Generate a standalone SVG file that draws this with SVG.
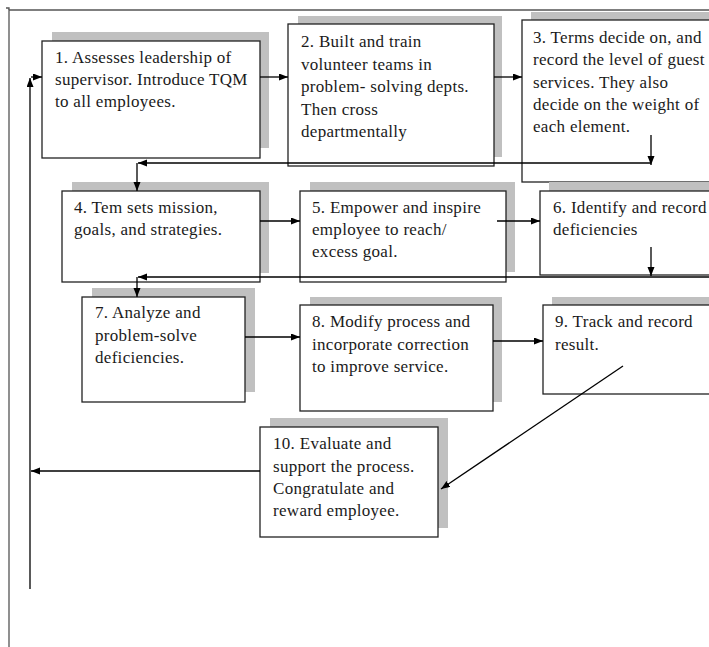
<svg xmlns="http://www.w3.org/2000/svg" width="709" height="647" viewBox="0 0 709 647">
<defs>
<marker id="ah" markerUnits="userSpaceOnUse" markerWidth="10" markerHeight="8" refX="9" refY="3.5" orient="auto">
<path d="M0,0 L9,3.5 L0,7 z" fill="#000"/>
</marker>
<style>
.sh{fill:#c0c0c0;stroke:none}
.bx{fill:#fff;stroke:#222;stroke-width:1.3}
.t{font-family:"Liberation Serif",serif;font-size:17px;fill:#1a1a1a;letter-spacing:0.3px}
.c{fill:none;stroke:#000;stroke-width:1.3}
.fr{fill:none;stroke:#555;stroke-width:1.3}
</style>
</defs>
<rect width="709" height="647" fill="#fff"/>
<g id="frame">
<path class="fr" d="M9,647 V10 H709"/>
<path class="fr" d="M6,8 H9 V10" stroke-width="1"/>
</g>
<g id="node1">
<rect class="sh" x="52" y="32" width="217" height="116"/>
<rect class="bx" x="42" y="41" width="218" height="117"/>
<text class="t" x="55" y="63">1. Assesses leadership of</text>
<text class="t" x="55" y="85">supervisor. Introduce TQM</text>
<text class="t" x="55" y="107">to all employees.</text>
</g>
<g id="node2">
<rect class="sh" x="298" y="16" width="204" height="141"/>
<rect class="bx" x="288" y="24" width="206" height="142"/>
<text class="t" x="301" y="47">2. Built and train</text>
<text class="t" x="301" y="69.5">volunteer teams in</text>
<text class="t" x="301" y="92">problem- solving depts.</text>
<text class="t" x="301" y="114.5">Then cross</text>
<text class="t" x="301" y="137">departmentally</text>
</g>
<g id="node3">
<rect class="sh" x="531" y="12" width="190" height="160"/>
<rect class="bx" x="522" y="20" width="200" height="162"/>
<text class="t" x="533" y="43">3. Terms decide on, and</text>
<text class="t" x="533" y="65">record the level of guest</text>
<text class="t" x="533" y="88">services. They also</text>
<text class="t" x="533" y="110">decide on the weight of</text>
<text class="t" x="533" y="132">each element.</text>
</g>
<g id="node4">
<rect class="sh" x="72" y="182" width="197" height="91"/>
<rect class="bx" x="62" y="191" width="198" height="91"/>
<text class="t" x="74" y="213">4. Tem sets mission,</text>
<text class="t" x="74" y="235">goals, and strategies.</text>
</g>
<g id="node5">
<rect class="sh" x="310" y="182" width="205" height="90"/>
<rect class="bx" x="300" y="191" width="206" height="91"/>
<text class="t" x="312" y="213">5. Empower and inspire</text>
<text class="t" x="312" y="235">employee to reach/</text>
<text class="t" x="312" y="257">excess goal.</text>
</g>
<g id="node6">
<rect class="sh" x="549" y="182" width="170" height="84"/>
<rect class="bx" x="540" y="191" width="180" height="84"/>
<text class="t" x="553" y="213">6. Identify and record</text>
<text class="t" x="553" y="235">deficiencies</text>
</g>
<g id="node7">
<rect class="sh" x="92" y="288" width="163" height="104"/>
<rect class="bx" x="82" y="297" width="163" height="105"/>
<text class="t" x="95" y="318">7. Analyze and</text>
<text class="t" x="95" y="341">problem-solve</text>
<text class="t" x="95" y="363">deficiencies.</text>
</g>
<g id="node8">
<rect class="sh" x="310" y="297" width="192" height="105"/>
<rect class="bx" x="300" y="305" width="193" height="106"/>
<text class="t" x="312" y="327">8. Modify process and</text>
<text class="t" x="312" y="350">incorporate correction</text>
<text class="t" x="312" y="372">to improve service.</text>
</g>
<g id="node9">
<rect class="sh" x="552" y="297" width="170" height="88"/>
<rect class="bx" x="543" y="305" width="180" height="89"/>
<text class="t" x="555" y="327">9. Track and record</text>
<text class="t" x="555" y="350">result.</text>
</g>
<g id="node10">
<rect class="sh" x="270" y="418" width="178" height="110"/>
<rect class="bx" x="260" y="427" width="178" height="110"/>
<text class="t" x="273" y="449">10. Evaluate and</text>
<text class="t" x="273" y="472">support the process.</text>
<text class="t" x="273" y="494">Congratulate and</text>
<text class="t" x="273" y="516">reward employee.</text>
</g>
<g id="connectors">
<path class="c" d="M260,77 H288" marker-end="url(#ah)"/>
<path class="c" d="M494,77 H522" marker-end="url(#ah)"/>
<path class="c" d="M651,135 V165" marker-end="url(#ah)"/>
<path class="c" d="M651,163 H138" marker-end="url(#ah)"/>
<path class="c" d="M137,163 V191" marker-end="url(#ah)"/>
<path class="c" d="M260,221 H300" marker-end="url(#ah)"/>
<path class="c" d="M497,221 H540" marker-end="url(#ah)"/>
<path class="c" d="M651,247 V276" marker-end="url(#ah)"/>
<path class="c" d="M709,277 H138" marker-end="url(#ah)"/>
<path class="c" d="M137,277 V297" marker-end="url(#ah)"/>
<path class="c" d="M245,337 H300" marker-end="url(#ah)"/>
<path class="c" d="M493,341 H543" marker-end="url(#ah)"/>
<path class="c" d="M623,366 L441,489" stroke-width="1" marker-end="url(#ah)"/>
<path class="c" d="M260,471 H31" marker-end="url(#ah)"/>
<path class="c" d="M30,589 V78" stroke="#555" marker-end="url(#ah)"/>
<path class="c" d="M31,77 H42" marker-end="url(#ah)"/>
</g>
</svg>
